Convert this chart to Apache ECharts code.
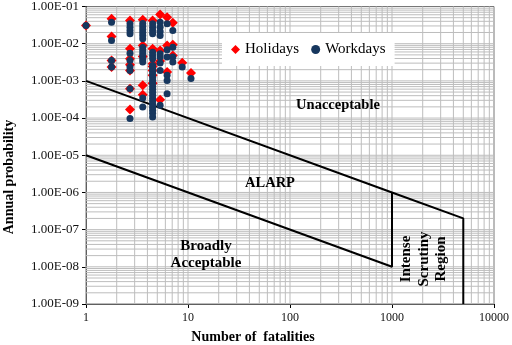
<!DOCTYPE html>
<html>
<head>
<meta charset="utf-8">
<script src="https://cdn.jsdelivr.net/npm/echarts@6/dist/echarts.min.js"></script>
<style>html,body{margin:0;padding:0;background:#fff;}#c{width:512px;height:345px;}</style>
</head>
<body>
<div id="c"></div>
<script>
// ---- data ----
const seriesNames = ['Holidays', 'Workdays'];
const xTickLabels = ['1', '10', '100', '1000', '10000'];
const yTickLabels = ['1.00E-09','1.00E-08','1.00E-07','1.00E-06','1.00E-05','1.00E-04','1.00E-03','1.00E-02','1.00E-01'];

const holidays = [
  [1, 0.0309],
  [1.78, 0.0468], [1.78, 0.0157], [1.78, 0.00355], [1.78, 0.00235],
  [2.7, 0.0421], [2.7, 0.00731], [2.7, 0.00395], [2.7, 0.00272], [2.7, 0.00191], [2.7, 0.000618], [2.7, 0.000169],
  [3.6, 0.0440], [3.6, 0.00897], [3.6, 0.00455], [3.6, 0.000757], [3.6, 0.000426],
  [4.5, 0.0421], [4.5, 0.00731], [4.5, 0.00290], [4.5, 0.00245], [4.5, 0.00191], [4.5, 0.00141], [4.5, 0.000857],
  [5.33, 0.0610], [5.33, 0.00659], [5.33, 0.00340], [5.33, 0.000313],
  [6.24, 0.0516], [6.24, 0.00897], [6.24, 0.00172],
  [7.1, 0.0365], [7.1, 0.00937], [7.1, 0.00484],
  [8.78, 0.00308],
  [10.7, 0.00162]
];

const workdays = [
  [1, 0.0309],
  [1.78, 0.0379], [1.78, 0.0122], [1.78, 0.00355], [1.78, 0.00235],
  [2.7, 0.0343], [2.7, 0.0278], [2.7, 0.0227], [2.7, 0.0185], [2.7, 0.00557], [2.7, 0.00355], [2.7, 0.00235], [2.7, 0.00191], [2.7, 0.000618], [2.7, 0.0000966],
  [3.6, 0.0350], [3.6, 0.0290], [3.6, 0.0241], [3.6, 0.0200], [3.6, 0.0166], [3.6, 0.0136], [3.6, 0.00793], [3.6, 0.00659], [3.6, 0.00547], [3.6, 0.00455], [3.6, 0.00378], [3.6, 0.00320], [3.6, 0.000345], [3.6, 0.000198],
  [4.5, 0.0343], [4.5, 0.0278], [4.5, 0.0227], [4.5, 0.0185], [4.5, 0.00593], [4.5, 0.00484], [4.5, 0.00395], [4.5, 0.00261], [4.5, 0.00217], [4.5, 0.00180], [4.5, 0.00149], [4.5, 0.00124], [4.5, 0.00103], [4.5, 0.000857], [4.5, 0.000711], [4.5, 0.000592], [4.5, 0.000491], [4.5, 0.000408], [4.5, 0.000339], [4.5, 0.000282], [4.5, 0.000234], [4.5, 0.000194], [4.5, 0.000162], [4.5, 0.000134], [4.5, 0.000107],
  [5.33, 0.0379], [5.33, 0.0278], [5.33, 0.0213], [5.33, 0.0166], [5.33, 0.00537], [5.33, 0.00436], [5.33, 0.00301], [5.33, 0.00191], [5.33, 0.000220],
  [6.24, 0.0343], [6.24, 0.00688], [6.24, 0.00436], [6.24, 0.00141], [6.24, 0.00103], [6.24, 0.000453],
  [7.1, 0.0227], [7.1, 0.00807], [7.1, 0.00436], [7.1, 0.00320],
  [8.78, 0.00235],
  [10.7, 0.00115]
];

// risk criterion boundary lines
const upperBoundary = [[1, 1e-3], [1000, 1e-6], [5000, 2e-7], [5000, 1e-9]];
const lowerBoundary = [[1, 1e-5], [1000, 1e-8], [1000, 1e-6]];

// ---- grid line positions (log decades 1..9) ----
const xMin = 1, xMax = 10000, yMin = 1e-9, yMax = 0.1;
const gridLines = [];
for (let k = 0; k < 4; k++) for (let m = 1; m <= 9; m++) gridLines.push(['x', m * Math.pow(10, k)]);
for (let e = -9; e < -1; e++) for (let m = 1; m <= 9; m++) gridLines.push(['y', m * Math.pow(10, e)]);

const serif = '"Liberation Serif","Times New Roman",serif';
const chart = echarts.init(document.getElementById('c'), null, {renderer: 'canvas'});

chart.setOption({
  animation: false,
  backgroundColor: '#fff',
  grid: {left: 86, right: 17, top: 6, bottom: 41, show: true, borderColor: '#777', borderWidth: 1, backgroundColor: 'transparent'},
  legend: {
    data: seriesNames,
    left: 222, top: 33,
    padding: [9, 9, 9, 9],
    backgroundColor: '#fff',
    itemGap: 12,
    itemWidth: 9, itemHeight: 9,
    textStyle: {fontFamily: serif, fontSize: 15, color: '#000'},
    z: 10
  },
  xAxis: {
    type: 'log', logBase: 10, min: xMin, max: xMax, splitNumber: 4,
    axisLine: {show: true, onZero: false, lineStyle: {color: '#000', width: 1}},
    axisTick: {show: true, length: 4, lineStyle: {color: '#000'}},
    axisLabel: {
      fontFamily: serif, fontSize: 12, color: '#111', margin: 8,
      formatter: v => xTickLabels[Math.round(Math.log10(v))]
    },
    splitLine: {show: false}
  },
  yAxis: {
    type: 'log', logBase: 10, min: yMin, max: yMax, splitNumber: 8,
    axisLine: {show: true, onZero: false, lineStyle: {color: '#000', width: 1}},
    axisTick: {show: true, length: 4, lineStyle: {color: '#000'}},
    axisLabel: {
      fontFamily: serif, fontSize: 13, color: '#111', margin: 7,
      formatter: v => yTickLabels[Math.round(Math.log10(v)) + 9]
    },
    splitLine: {show: false}
  },
  series: [
    {
      type: 'custom', silent: true, z: 1,
      data: gridLines.map((g, i) => [i]),
      renderItem: function (params, api) {
        const g = gridLines[params.dataIndex];
        let p1, p2;
        if (g[0] === 'x') { p1 = api.coord([g[1], yMin]); p2 = api.coord([g[1], yMax]); }
        else { p1 = api.coord([xMin, g[1]]); p2 = api.coord([xMax, g[1]]); }
        return {
          type: 'line',
          shape: {x1: p1[0], y1: p1[1], x2: p2[0], y2: p2[1]},
          style: {stroke: '#bdbdbd', lineWidth: 1}
        };
      }
    },
    {
      name: 'upper', type: 'line', data: upperBoundary, symbol: 'none', z: 3,
      lineStyle: {color: '#000', width: 2}, silent: true
    },
    {
      name: 'lower', type: 'line', data: lowerBoundary, symbol: 'none', z: 3,
      lineStyle: {color: '#000', width: 2}, silent: true
    },
    {
      name: 'Holidays', type: 'scatter', data: holidays, symbol: 'diamond', symbolSize: 10, z: 4,
      itemStyle: {color: '#ff0000', opacity: 1}
    },
    {
      name: 'Workdays', type: 'scatter', data: workdays, symbol: 'circle', symbolSize: 7, z: 5,
      itemStyle: {color: '#17375e', opacity: 1}
    }
  ],
  graphic: [
    {type: 'text', x: 253, y: 337, z: 20, style: {text: 'Number of  fatalities', font: 'bold 14px ' + serif, fill: '#000', textAlign: 'center', textVerticalAlign: 'middle'}},
    {type: 'text', x: 9, y: 177, rotation: Math.PI / 2, z: 20, style: {text: 'Annual probability', font: 'bold 14px ' + serif, fill: '#000', textAlign: 'center', textVerticalAlign: 'middle'}},
    {type: 'text', x: 338, y: 105, z: 20, style: {text: 'Unacceptable', font: 'bold 14.5px ' + serif, fill: '#000', textAlign: 'center', textVerticalAlign: 'middle'}},
    {type: 'text', x: 270, y: 183, z: 20, style: {text: 'ALARP', font: 'bold 14.5px ' + serif, fill: '#000', textAlign: 'center', textVerticalAlign: 'middle'}},
    {type: 'text', x: 206, y: 255, z: 20, style: {text: 'Broadly\nAcceptable', font: 'bold 15px ' + serif, lineHeight: 17, fill: '#000', textAlign: 'center', textVerticalAlign: 'middle'}},
    {type: 'text', x: 424, y: 259, rotation: Math.PI / 2, z: 20, style: {text: 'Intense\nScrutiny\nRegion', font: 'bold 15px ' + serif, lineHeight: 17.5, fill: '#000', textAlign: 'center', textVerticalAlign: 'middle'}}
  ]
});
</script>
</body>
</html>
